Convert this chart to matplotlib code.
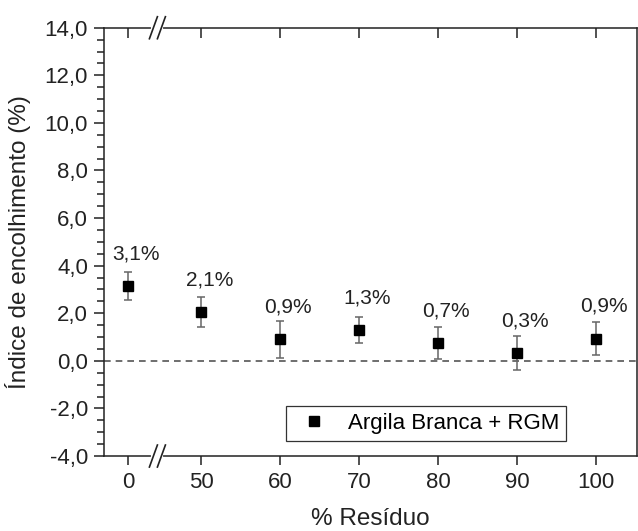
import numpy as np
import matplotlib
matplotlib.use('Agg')
import matplotlib.pyplot as plt
from matplotlib.ticker import FixedLocator, MultipleLocator, FuncFormatter

plt.rcParams['font.family'] = ['Liberation Sans', 'DejaVu Sans']

# data
residuo = [0, 50, 60, 70, 80, 90, 100]
encolhimento = [3.15, 2.05, 0.90, 1.29, 0.74, 0.33, 0.93]
erro = [0.58, 0.63, 0.78, 0.55, 0.68, 0.72, 0.70]
rotulos = ['3,1%', '2,1%', '0,9%', '1,3%', '0,7%', '0,3%', '0,9%']
serie = 'Argila Branca + RGM'

# broken x axis: 0..50 squeezed, 50..100 linear
K = (73 / 79) / 50


def fwd(x):
    x = np.asarray(x, dtype=float)
    return np.where(x <= 50, x * K, 50 * K + (x - 50) / 10)


def inv(u):
    u = np.asarray(u, dtype=float)
    return np.where(u <= 50 * K, u / K, 50 + (u - 50 * K) * 10)


fig = plt.figure(figsize=(6.38, 5.31), dpi=100)
ax = fig.add_axes([0.163, 0.1412, 0.835, 0.8066])
ax.set_xscale('function', functions=(fwd, inv))
ax.set_xlim(-16.6, 105.15)
ax.set_ylim(-4, 14)

ax.axhline(0, color='#555555', ls=(0, (4, 3)), lw=1.2, zorder=1)

ax.errorbar(residuo, encolhimento, yerr=erro, fmt='none', ecolor='#666666',
            elinewidth=1.1, capsize=3, capthick=1.1, zorder=2)
ax.plot(residuo, encolhimento, 's', color='black', ms=6.8, label=serie, zorder=3)

for x, y, t in zip(residuo, encolhimento, rotulos):
    ax.annotate(t, (x, y), xytext=(5.8, 23.3), textcoords='offset points',
                ha='center', va='center', fontsize=15, color='#222222')

ax.xaxis.set_major_locator(FixedLocator(residuo))
ax.xaxis.set_minor_locator(FixedLocator([]))
ax.set_xticklabels([str(v) for v in residuo])
ax.yaxis.set_major_locator(MultipleLocator(2))
ax.yaxis.set_minor_locator(MultipleLocator(0.5))
ax.yaxis.set_major_formatter(FuncFormatter(lambda v, p: f'{v:.1f}'.replace('.', ',')))

ax.tick_params(axis='x', which='major', direction='out', length=6.5, width=1.1,
               top=True, labelsize=16, pad=5, colors='#222222')
ax.tick_params(axis='y', which='major', direction='out', length=7.5, width=1.1,
               right=False, labelsize=16, pad=4, colors='#222222')
ax.tick_params(axis='y', which='minor', direction='out', length=5, width=1.1,
               right=False, colors='#222222')
# top ticks point inward
for tk in ax.xaxis.get_major_ticks():
    tk.tick2line.set_marker(3)
    tk.tick2line.set_markersize(7)

for s in ax.spines.values():
    s.set_color('#222222')
    s.set_linewidth(1.1)

ax.set_xlabel('% Resíduo', fontsize=17.5, color='#222222')
ax.xaxis.set_label_coords(0.5, -0.122)
ax.set_ylabel('Índice de encolhimento (%)', fontsize=17.5, color='#222222')
ax.yaxis.set_label_coords(-0.137, 0.5)

leg = ax.legend(loc='lower right', bbox_to_anchor=(0.867, 0.036), borderaxespad=0,
                fontsize=16, frameon=True, fancybox=False, edgecolor='#333333',
                framealpha=1, handlelength=2.0, handletextpad=0.5,
                borderpad=0.3)
leg.get_frame().set_linewidth(0.9)

# break marks on top and bottom spines
xb = ax.transAxes.inverted().transform(ax.transData.transform((20, 0)))[0]
dx, dy, gap = 4 / 533, 11 / 428, 8 / 533
for ya in (0, 1):
    ax.plot([xb - gap / 2, xb + gap / 2], [ya, ya], color='white', lw=3,
            transform=ax.transAxes, clip_on=False, zorder=5)
    for xc in (xb - gap / 2, xb + gap / 2):
        ax.plot([xc - dx, xc + dx], [ya - dy, ya + dy], color='#222222', lw=1.2,
                transform=ax.transAxes, clip_on=False, zorder=6)

fig.savefig('out.png', dpi=100)
